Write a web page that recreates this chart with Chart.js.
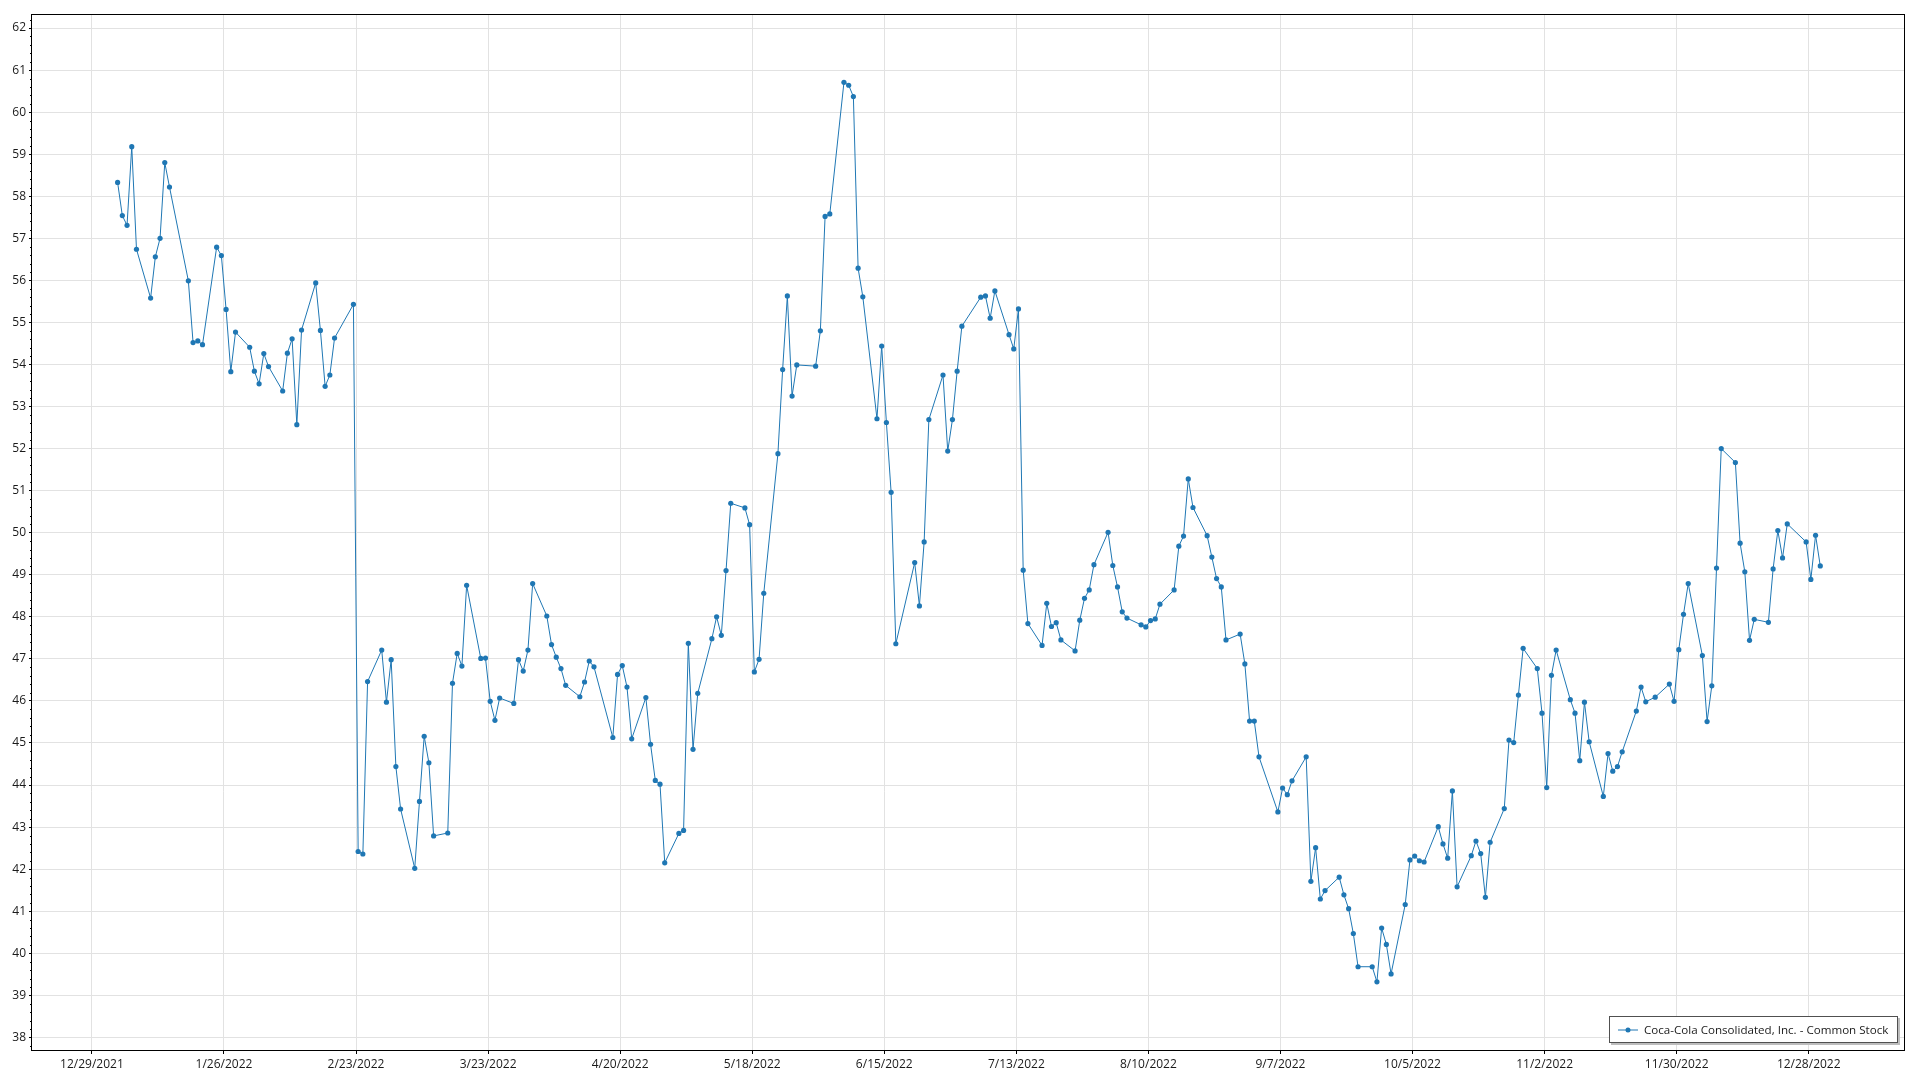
<!DOCTYPE html>
<html>
<head>
<meta charset="utf-8">
<script src="https://cdn.jsdelivr.net/npm/chart.js@4.4.0/dist/chart.umd.min.js"></script>
<style>
    html, body { margin: 0; padding: 0; background: #fff; }
    #wrap { width: 1920px; height: 1080px; }
</style>
</head>
<body>
<div id="wrap"><canvas id="myChart1"></canvas></div>
<script>
var seriesLabel = 'Coca-Cola Consolidated, Inc. - Common Stock';

// trading days, 2022
var dates = [
    '1/3/2022','1/4/2022','1/5/2022','1/6/2022','1/7/2022','1/10/2022','1/11/2022','1/12/2022','1/13/2022','1/14/2022',
    '1/18/2022','1/19/2022','1/20/2022','1/21/2022','1/24/2022','1/25/2022','1/26/2022','1/27/2022','1/28/2022','1/31/2022',
    '2/1/2022','2/2/2022','2/3/2022','2/4/2022','2/7/2022','2/8/2022','2/9/2022','2/10/2022','2/11/2022','2/14/2022',
    '2/15/2022','2/16/2022','2/17/2022','2/18/2022','2/22/2022','2/23/2022','2/24/2022','2/25/2022','2/28/2022',
    '3/1/2022','3/2/2022','3/3/2022','3/4/2022','3/7/2022','3/8/2022','3/9/2022','3/10/2022','3/11/2022','3/14/2022',
    '3/15/2022','3/16/2022','3/17/2022','3/18/2022','3/21/2022','3/22/2022','3/23/2022','3/24/2022','3/25/2022','3/28/2022',
    '3/29/2022','3/30/2022','3/31/2022',
    '4/1/2022','4/4/2022','4/5/2022','4/6/2022','4/7/2022','4/8/2022','4/11/2022','4/12/2022','4/13/2022','4/14/2022',
    '4/18/2022','4/19/2022','4/20/2022','4/21/2022','4/22/2022','4/25/2022','4/26/2022','4/27/2022','4/28/2022','4/29/2022',
    '5/2/2022','5/3/2022','5/4/2022','5/5/2022','5/6/2022','5/9/2022','5/10/2022','5/11/2022','5/12/2022','5/13/2022',
    '5/16/2022','5/17/2022','5/18/2022','5/19/2022','5/20/2022','5/23/2022','5/24/2022','5/25/2022','5/26/2022','5/27/2022',
    '5/31/2022',
    '6/1/2022','6/2/2022','6/3/2022','6/6/2022','6/7/2022','6/8/2022','6/9/2022','6/10/2022','6/13/2022','6/14/2022',
    '6/15/2022','6/16/2022','6/17/2022','6/21/2022','6/22/2022','6/23/2022','6/24/2022','6/27/2022','6/28/2022','6/29/2022',
    '6/30/2022',
    '7/1/2022','7/5/2022','7/6/2022','7/7/2022','7/8/2022','7/11/2022','7/12/2022','7/13/2022','7/14/2022','7/15/2022',
    '7/18/2022','7/19/2022','7/20/2022','7/21/2022','7/22/2022','7/25/2022','7/26/2022','7/27/2022','7/28/2022','7/29/2022',
    '8/1/2022','8/2/2022','8/3/2022','8/4/2022','8/5/2022','8/8/2022','8/9/2022','8/10/2022','8/11/2022','8/12/2022',
    '8/15/2022','8/16/2022','8/17/2022','8/18/2022','8/19/2022','8/22/2022','8/23/2022','8/24/2022','8/25/2022','8/26/2022',
    '8/29/2022','8/30/2022','8/31/2022',
    '9/1/2022','9/2/2022','9/6/2022','9/7/2022','9/8/2022','9/9/2022','9/12/2022','9/13/2022','9/14/2022','9/15/2022',
    '9/16/2022','9/19/2022','9/20/2022','9/21/2022','9/22/2022','9/23/2022','9/26/2022','9/27/2022','9/28/2022','9/29/2022',
    '9/30/2022',
    '10/3/2022','10/4/2022','10/5/2022','10/6/2022','10/7/2022','10/10/2022','10/11/2022','10/12/2022','10/13/2022','10/14/2022',
    '10/17/2022','10/18/2022','10/19/2022','10/20/2022','10/21/2022','10/24/2022','10/25/2022','10/26/2022','10/27/2022','10/28/2022',
    '10/31/2022',
    '11/1/2022','11/2/2022','11/3/2022','11/4/2022','11/7/2022','11/8/2022','11/9/2022','11/10/2022','11/11/2022','11/14/2022',
    '11/15/2022','11/16/2022','11/17/2022','11/18/2022','11/21/2022','11/22/2022','11/23/2022','11/25/2022','11/28/2022','11/29/2022',
    '11/30/2022',
    '12/1/2022','12/2/2022','12/5/2022','12/6/2022','12/7/2022','12/8/2022','12/9/2022','12/12/2022','12/13/2022','12/14/2022',
    '12/15/2022','12/16/2022','12/19/2022','12/20/2022','12/21/2022','12/22/2022','12/23/2022','12/27/2022','12/28/2022','12/29/2022',
    '12/30/2022'
];

var prices = [
    58.33, 57.54, 57.31, 59.18, 56.74, 55.58, 56.56, 57.00, 58.80, 58.22,
    55.99, 54.52, 54.56, 54.47, 56.79, 56.59, 55.31, 53.83, 54.77, 54.41,
    53.84, 53.54, 54.26, 53.95, 53.37, 54.27, 54.61, 52.57, 54.82, 55.94,
    54.81, 53.48, 53.75, 54.63, 55.43, 42.42, 42.36, 46.46, 47.21,
    45.97, 46.98, 44.44, 43.43, 42.02, 43.61, 45.16, 44.53, 42.79, 42.86,
    46.42, 47.13, 46.83, 48.75, 47.01, 47.02, 45.99, 45.54, 46.07, 45.94,
    46.98, 46.71, 47.21,
    48.79, 48.02, 47.34, 47.04, 46.77, 46.37, 46.10, 46.45, 46.95, 46.81,
    45.13, 46.63, 46.84, 46.33, 45.10, 46.08, 44.97, 44.11, 44.02, 42.15,
    42.85, 42.92, 47.37, 44.85, 46.18, 47.48, 48.00, 47.56, 49.10, 50.70,
    50.59, 50.19, 46.69, 46.99, 48.56, 51.88, 53.88, 55.63, 53.25, 53.99,
    53.96,
    54.80, 57.52, 57.58, 60.71, 60.64, 60.37, 56.29, 55.61, 52.71, 54.44,
    52.62, 50.96, 47.36, 49.29, 48.26, 49.78, 52.69, 53.75, 51.94, 52.69,
    53.84,
    54.91, 55.60, 55.63, 55.10, 55.75, 54.71, 54.37, 55.32, 49.11, 47.84,
    47.32, 48.32, 47.77, 47.86, 47.45, 47.19, 47.92, 48.44, 48.64, 49.24,
    50.01, 49.22, 48.71, 48.12, 47.97, 47.81, 47.76, 47.91, 47.95, 48.30,
    48.64, 49.68, 49.92, 51.28, 50.60, 49.93, 49.42, 48.91, 48.71, 47.45,
    47.59, 46.88, 45.52,
    45.52, 44.67, 43.36, 43.93, 43.77, 44.10, 44.67, 41.71, 42.51, 41.29,
    41.49, 41.81, 41.39, 41.06, 40.47, 39.68, 39.68, 39.32, 40.60, 40.21,
    39.51,
    41.16, 42.22, 42.31, 42.20, 42.17, 43.01, 42.60, 42.26, 43.86, 41.58,
    42.32, 42.67, 42.37, 41.33, 42.64, 43.44, 45.07, 45.01, 46.14, 47.25,
    46.77,
    45.71, 43.94, 46.61, 47.21, 46.03, 45.71, 44.58, 45.97, 45.03, 43.73,
    44.75, 44.33, 44.44, 44.79, 45.76, 46.33, 45.98, 46.09, 46.40, 45.99,
    47.22,
    48.06, 48.79, 47.08, 45.51, 46.36, 49.16, 52.00, 51.67, 49.75, 49.07,
    47.44, 47.94, 47.87, 49.14, 50.05, 49.40, 50.21, 49.78, 48.89, 49.94,
    49.21
];

var tickLabels = ['12/29/2021', '1/26/2022', '2/23/2022', '3/23/2022', '4/20/2022', '5/18/2022', '6/15/2022',
    '7/13/2022', '8/10/2022', '9/7/2022', '10/5/2022', '11/2/2022', '11/30/2022', '12/28/2022'];

var yTicks = [38, 39, 40, 41, 42, 43, 44, 45, 46, 47, 48, 49, 50, 51, 52, 53, 54, 55, 56, 57, 58, 59, 60, 61, 62];

function toDay(s) {
    var p = s.split('/').map(Number);
    return Date.UTC(p[2], p[0] - 1, p[1]) / 86400000;
}

var tickDays = tickLabels.map(toDay);
// quotes are stamped a little after midnight, so they sit just right of the day gridline
var points = dates.map(function (d, i) { return { x: toDay(d) + 0.45, y: prices[i] }; });

var blue = '#1f77b4';
var fontFamily = '"Segoe UI", "Open Sans", sans-serif';

// outer frame + minor ticks on the value axis
var framePlugin = {
    id: 'frame',
    afterDraw: function (chart) {
        var c = chart.ctx, a = chart.chartArea, ys = chart.scales.y;
        c.save();
        c.strokeStyle = '#000';
        c.lineWidth = 1;
        c.strokeRect(Math.round(a.left) - 0.5, Math.round(a.top) - 0.5,
            Math.round(a.right - a.left) + 1, Math.round(a.bottom - a.top) + 1);
        c.beginPath();
        for (var v = 37.8; v <= 62.3; v += 0.2) {
            var r = Math.round(v * 10) / 10;
            if (Math.abs(r - Math.round(r)) < 0.01) continue;
            var py = Math.round(ys.getPixelForValue(r)) + 0.5;
            c.moveTo(a.left - 2, py);
            c.lineTo(a.left, py);
        }
        c.stroke();
        c.restore();
    }
};

// legend box in lower right corner of the plot
var legendPlugin = {
    id: 'boxLegend',
    afterDraw: function (chart) {
        var c = chart.ctx, a = chart.chartArea;
        var label = chart.data.datasets[0].label;
        c.save();
        c.font = '11.6px ' + fontFamily;
        var tw = c.measureText(label).width;
        var w = Math.round(9 + 20 + 6 + tw + 10), h = 27;
        var x = Math.round(a.right - 6 - w), y = Math.round(a.bottom - 7 - h);
        c.fillStyle = '#bdbdbd';
        c.fillRect(x + 2, y + 2, w, h);
        c.fillStyle = '#fff';
        c.fillRect(x, y, w, h);
        c.strokeStyle = '#505050';
        c.lineWidth = 1;
        c.strokeRect(x + 0.5, y + 0.5, w - 1, h - 1);
        c.strokeStyle = blue;
        c.beginPath();
        c.moveTo(x + 9, y + h / 2 + 0.5);
        c.lineTo(x + 29, y + h / 2 + 0.5);
        c.stroke();
        c.fillStyle = blue;
        c.beginPath();
        c.arc(x + 19, y + h / 2 + 0.5, 2.5, 0, Math.PI * 2);
        c.fill();
        c.fillStyle = '#1a1a1a';
        c.textBaseline = 'middle';
        c.fillText(label, x + 35, y + h / 2 + 1);
        c.restore();
    }
};

var ctx = document.getElementById('myChart1');
new Chart(ctx, {
    type: 'line',
    data: {
        datasets: [
            {
                label: seriesLabel,
                data: points,
                borderColor: blue,
                backgroundColor: blue,
                borderWidth: 1,
                pointRadius: 2.6,
                pointBorderWidth: 0,
                pointHoverRadius: 2.6,
                lineTension: 0
            }
        ]
    },
    options: {
        responsive: true,
        maintainAspectRatio: false,
        animation: false,
        layout: { padding: { top: 15, right: 16, left: 0, bottom: 0 } },
        plugins: {
            legend: { display: false },
            tooltip: { enabled: false }
        },
        scales: {
            x: {
                type: 'linear',
                min: tickDays[0] - 12.7,
                max: tickDays[tickDays.length - 1] + 20.2,
                afterBuildTicks: function (axis) {
                    axis.ticks = tickDays.map(function (v) { return { value: v }; });
                },
                afterFit: function (axis) { axis.height = 30; },
                ticks: {
                    autoSkip: false,
                    maxRotation: 0,
                    padding: 3,
                    color: '#1a1a1a',
                    font: { family: fontFamily, size: 12 },
                    callback: function (value, index) { return tickLabels[index]; }
                },
                grid: { color: '#e2e2e2', tickColor: '#000', tickLength: 4 },
                border: { display: false }
            },
            y: {
                type: 'linear',
                min: 37.7,
                max: 62.31,
                afterBuildTicks: function (axis) {
                    axis.ticks = yTicks.map(function (v) { return { value: v }; });
                },
                afterFit: function (axis) { axis.width = 32; },
                ticks: {
                    padding: 3,
                    color: '#1a1a1a',
                    font: { family: fontFamily, size: 12 },
                    callback: function (value) { return String(value); }
                },
                grid: { color: '#e2e2e2', tickColor: '#000', tickLength: 3 },
                border: { display: false }
            }
        }
    },
    plugins: [framePlugin, legendPlugin]
});
</script>
</body>
</html>
